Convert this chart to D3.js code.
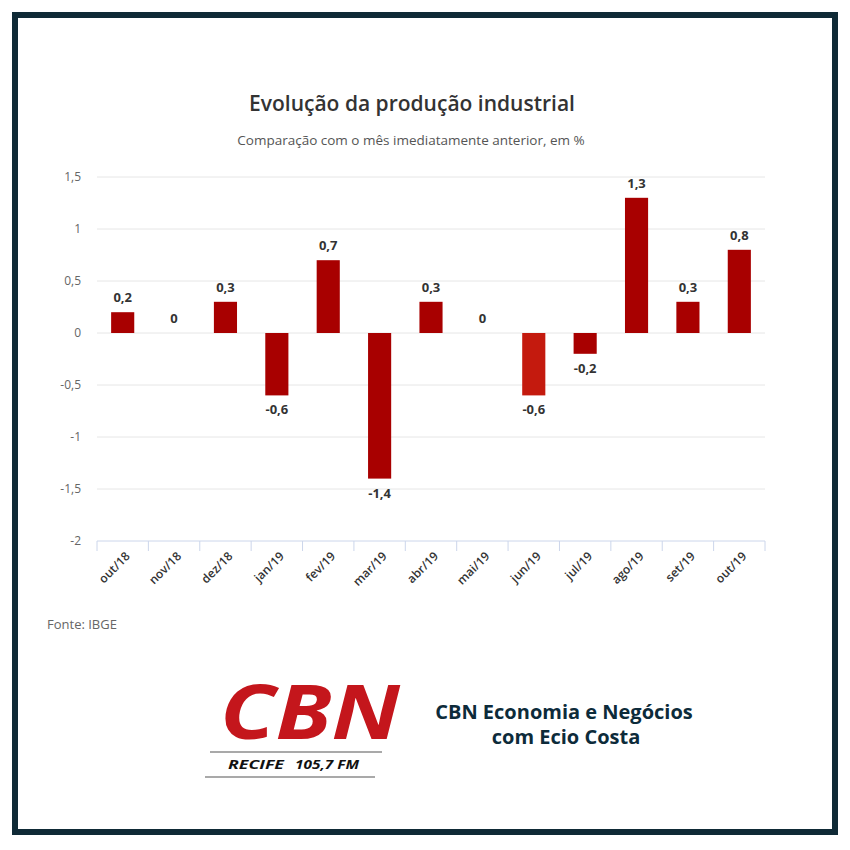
<!DOCTYPE html>
<html>
<head>
<meta charset="utf-8">
<script src="https://cdn.jsdelivr.net/npm/d3@7"></script>
<style>
  body { margin: 0; background: #fff; }
  text { font-family: "Open Sans", "Noto Sans", sans-serif; }
</style>
</head>
<body>
<svg id="chart" width="850" height="850"></svg>
<script>
// Chart data
var months = ["out/18", "nov/18", "dez/18", "jan/19", "fev/19", "mar/19", "abr/19",
    "mai/19", "jun/19", "jul/19", "ago/19", "set/19", "out/19"];
var values = [0.2, 0, 0.3, -0.6, 0.7, -1.4, 0.3, 0, -0.6, -0.2, 1.3, 0.3, 0.8];
var yTicks = [1.5, 1, 0.5, 0, -0.5, -1, -1.5, -2];

var svg = d3.select("#chart");

// Frame
svg.append("rect")
    .attr("x", 0).attr("y", 0)
    .attr("width", 850).attr("height", 850)
    .attr("fill", "#fff");

svg.append("rect")
    .attr("x", 15).attr("y", 15)
    .attr("width", 820).attr("height", 817)
    .attr("fill", "none")
    .attr("stroke", "#0f2a36")
    .attr("stroke-width", 6);

// Plot area
var plot = { left: 97, right: 765, top: 177, bottom: 541 };

var x = d3.scaleBand()
    .domain(months)
    .range([plot.left, plot.right])
    .padding(0);

var y = d3.scaleLinear()
    .domain([-2, 1.5])
    .range([plot.bottom, plot.top]);

var barW = x.bandwidth() * 0.45;
var fmt = function (v) { return String(v).replace(".", ","); };

// Title
svg.append("text")
    .attr("x", 412).attr("y", 111)
    .attr("text-anchor", "middle")
    .attr("font-size", 21)
    .attr("font-weight", 600)
    .attr("fill", "#333")
    .text("Evolução da produção industrial");

svg.append("text")
    .attr("x", 411).attr("y", 145)
    .attr("text-anchor", "middle")
    .attr("font-size", 13.5)
    .attr("fill", "#555")
    .text("Comparação com o mês imediatamente anterior, em %");

// Grid lines
svg.append("g")
    .selectAll("line")
    .data(yTicks.filter(function (d) { return d !== -2; }))
    .enter()
    .append("line")
    .attr("x1", plot.left).attr("x2", plot.right)
    .attr("y1", d => y(d)).attr("y2", d => y(d))
    .attr("stroke", "#e6e6e6")
    .attr("stroke-width", 1);

// Y axis labels
var leftAxis = d3.axisLeft(y)
    .tickValues(yTicks)
    .tickSize(0)
    .tickPadding(16)
    .tickFormat(fmt);

var yAxis = svg.append("g")
    .attr("transform", `translate(${plot.left}, 0)`)
    .call(leftAxis);
yAxis.select(".domain").remove();
yAxis.selectAll("text")
    .attr("font-size", 12)
    .attr("fill", "#666")
    .style("font-family", "'Open Sans', sans-serif");

// X axis line and boundary ticks
svg.append("line")
    .attr("x1", plot.left).attr("x2", plot.right)
    .attr("y1", y(-2)).attr("y2", y(-2))
    .attr("stroke", "#ccd6eb");

var bounds = months.map(d => x(d)).concat([plot.right]);
svg.append("g")
    .selectAll("line")
    .data(bounds)
    .enter()
    .append("line")
    .attr("x1", d => d).attr("x2", d => d)
    .attr("y1", y(-2)).attr("y2", y(-2) + 10)
    .attr("stroke", "#ccd6eb");

// X labels, rotated
svg.append("g")
    .selectAll("text")
    .data(months)
    .enter()
    .append("text")
    .attr("transform", d => `translate(${x(d) + x.bandwidth() / 2 + 8}, ${y(-2) + 16}) rotate(-45)`)
    .attr("text-anchor", "end")
    .attr("font-size", 12)
    .attr("font-weight", 600)
    .attr("fill", "#333")
    .text(d => d);

// Bars
svg.append("g")
    .selectAll("rect")
    .data(values)
    .enter()
    .append("rect")
    .attr("x", (d, i) => x(months[i]) + (x.bandwidth() - barW) / 2)
    .attr("y", d => y(Math.max(0, d)))
    .attr("width", barW)
    .attr("height", d => Math.abs(y(d) - y(0)))
    .attr("fill", (d, i) => months[i] === "jun/19" ? "#c41a0e" : "#a80000");

// Data labels
svg.append("g")
    .selectAll("text")
    .data(values)
    .enter()
    .append("text")
    .attr("x", (d, i) => x(months[i]) + x.bandwidth() / 2)
    .attr("y", d => d < 0 ? y(d) + 19 : y(d) - 10)
    .attr("text-anchor", "middle")
    .attr("font-size", 13)
    .attr("font-weight", "bold")
    .attr("fill", "#333")
    .text(fmt);

// Source
svg.append("text")
    .attr("x", 47).attr("y", 629)
    .attr("font-size", 13)
    .attr("fill", "#666")
    .text("Fonte: IBGE");

// CBN logo
svg.append("text")
    .attr("x", 220).attr("y", 739)
    .attr("font-family", "'Liberation Sans', Arial, sans-serif")
    .attr("font-size", 75)
    .attr("font-weight", "bold")
    .attr("font-style", "italic")
    .attr("fill", "#c4161c")
    .attr("textLength", 180)
    .attr("lengthAdjust", "spacingAndGlyphs")
    .text("CBN");

svg.append("line")
    .attr("x1", 210).attr("x2", 382)
    .attr("y1", 752).attr("y2", 752)
    .attr("stroke", "#555").attr("stroke-width", 1.2);

svg.append("line")
    .attr("x1", 205).attr("x2", 375)
    .attr("y1", 777).attr("y2", 777)
    .attr("stroke", "#555").attr("stroke-width", 1.2);

svg.append("text")
    .attr("x", 228).attr("y", 769)
    .attr("font-family", "'Liberation Sans', Arial, sans-serif")
    .attr("font-size", 13)
    .attr("font-weight", "bold")
    .attr("font-style", "italic")
    .attr("fill", "#111")
    .attr("textLength", 56)
    .attr("lengthAdjust", "spacingAndGlyphs")
    .text("RECIFE");

svg.append("text")
    .attr("x", 295).attr("y", 769)
    .attr("font-family", "'Liberation Sans', Arial, sans-serif")
    .attr("font-size", 13)
    .attr("font-weight", "bold")
    .attr("font-style", "italic")
    .attr("fill", "#111")
    .attr("textLength", 64)
    .attr("lengthAdjust", "spacingAndGlyphs")
    .text("105,7 FM");

// Program name
svg.append("text")
    .attr("x", 564).attr("y", 719)
    .attr("text-anchor", "middle")
    .attr("font-family", "Lato, 'Open Sans', sans-serif")
    .attr("font-size", 20)
    .attr("font-weight", "bold")
    .attr("fill", "#0d2b3a")
    .text("CBN Economia e Negócios");

svg.append("text")
    .attr("x", 566).attr("y", 744)
    .attr("text-anchor", "middle")
    .attr("font-family", "Lato, 'Open Sans', sans-serif")
    .attr("font-size", 20)
    .attr("font-weight", "bold")
    .attr("fill", "#0d2b3a")
    .text("com Ecio Costa");
</script>
</body>
</html>
